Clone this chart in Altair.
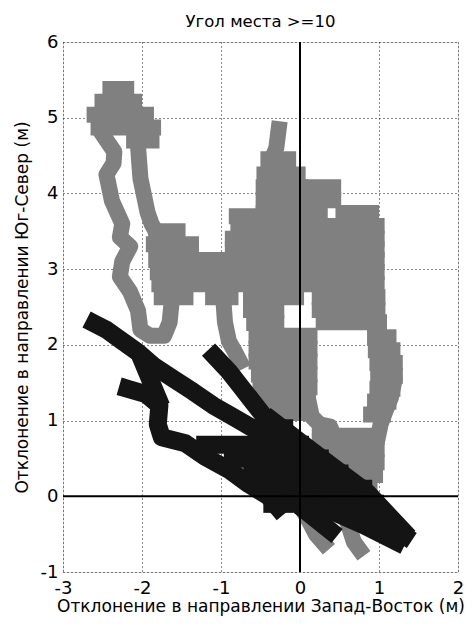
import altair as alt
import pandas as pd

TITLE = "Угол места >=10"
X_TITLE = "Отклонение в направлении Запад-Восток (м)"
Y_TITLE = "Отклонение в направлении Юг-Север (м)"
X_TICKS = [-3, -2, -1, 0, 1, 2]
Y_TICKS = [-1, 0, 1, 2, 3, 4, 5, 6]

# ---- gray trace: dense parts as horizontal runs (y, x from, x to) ----
g_row_y = [5.38, 5.21, 5.04, 4.87, 4.70,
           3.50, 3.33, 3.12, 2.96, 2.80, 2.63, 2.63, 2.63, 2.63,
           4.08, 3.91, 3.74, 3.74, 3.57, 3.40, 3.26, 2.46, 2.30,
           4.45, 4.25, 4.08, 3.91, 3.74, 3.70, 3.55, 3.40,
           2.46, 2.29, 2.12, 1.95, 1.78, 1.61, 1.44, 1.27, 1.10,
           2.10, 1.93, 1.76, 1.59, 1.42, 1.25, 1.08,
           0.80, 0.62, 0.45, 0.28, 0.11]
g_row_x0 = [-2.40, -2.50, -2.60, -2.55, -2.10,
            -1.82, -1.85, -1.82, -1.80, -1.78, -1.75, -1.10, -0.62, 0.25,
            0.05, 0.05, 0.05, 0.55, 0.05, 0.05, -0.85, 0.25, 0.30,
            -0.40, -0.45, -0.46, -0.46, -0.46, -0.80, -0.78, -0.85,
            -0.62, -0.58, -0.55, -0.55, -0.55, -0.52, -0.50, -0.45, -0.40,
            0.95, 0.96, 0.98, 0.99, 0.98, 0.95, 0.90,
            0.25, 0.30, 0.40, 0.55, 0.65]
g_row_x1 = [-2.20, -2.10, -1.95, -1.86, -1.88,
            -1.55, -1.38, 0.97, 0.97, 0.97, -1.45, -0.88, -0.05, 0.98,
            0.42, 0.42, 0.25, 0.90, 0.97, 0.97, 0.97, 0.98, 1.00,
            -0.15, -0.03, 0.00, 0.00, 0.00, -0.55, 0.00, 0.00,
            -0.30, -0.30, 0.12, 0.12, 0.12, 0.12, 0.12, 0.10, 0.05,
            1.12, 1.17, 1.20, 1.20, 1.17, 1.12, 1.05,
            0.95, 0.97, 0.97, 0.95, 0.88]

# ---- gray trace: strands ----
g_left_x = [-1.62, -1.65, -1.72, -1.90, -2.02, -2.05, -2.15, -2.28, -2.25, -2.15, -2.28, -2.25, -2.38, -2.45, -2.36, -2.35, -2.48]
g_left_y = [2.62, 2.30, 2.12, 2.12, 2.20, 2.45, 2.70, 2.90, 3.10, 3.30, 3.42, 3.60, 3.90, 4.25, 4.40, 4.55, 4.75]
g_rleg_x = [-2.05, -2.02, -1.97, -1.93, -1.88, -1.80]
g_rleg_y = [4.62, 4.20, 3.95, 3.75, 3.60, 3.45]
g_strip_x = [-0.97, -0.95, -0.90, -0.82, -0.76]
g_strip_y = [2.60, 2.30, 2.05, 1.90, 1.78]
g_spike_x = [-0.27, -0.30, -0.36]
g_spike_y = [4.85, 4.60, 4.45]
g_outer_x = [0.95, 1.08, 1.15, 1.20, 1.15, 1.08, 1.02, 0.98, 0.92, 0.86, 0.82]
g_outer_y = [2.25, 2.00, 1.80, 1.55, 1.30, 1.12, 0.95, 0.75, 0.50, 0.30, 0.10]
g_inner_x = [0.10, 0.15, 0.25, 0.38, 0.45, 0.50, 0.58, 0.68, 0.75]
g_inner_y = [1.30, 1.05, 0.95, 0.92, 0.75, 0.50, 0.30, 0.15, 0.00]
g_bot1_x = [-0.85, -0.70, -0.55, -0.45]
g_bot1_y = [0.45, 0.30, 0.15, 0.05]
g_bot2_x = [0.02, 0.10, 0.20, 0.30]
g_bot2_y = [-0.15, -0.30, -0.50, -0.62]
g_bot3_x = [0.55, 0.62, 0.68, 0.75]
g_bot3_y = [-0.20, -0.40, -0.60, -0.70]

# ---- black trace: dense core as horizontal runs ----
b_row_y = [0.90, 0.68, 0.50, 0.30, 0.10, -0.10, -0.10]
b_row_x0 = [-0.45, -1.20, -0.85, -0.60, -0.40, -0.35, 0.05]
b_row_x1 = [-0.20, 0.00, 0.25, 0.50, 0.80, -0.20, 0.95]

# ---- black trace: strands ----
b_top_x = [-2.60, -2.45, -2.25, -2.05, -1.85, -1.60, -1.35, -1.10, -0.85, -0.60, -0.35]
b_top_y = [2.28, 2.20, 2.05, 1.90, 1.72, 1.55, 1.38, 1.20, 1.05, 0.90, 0.72]
b_fork_x = [-2.00, -1.90, -1.80]
b_fork_y = [1.80, 1.55, 1.30]
b_hook_x = [-2.18, -1.95, -1.78, -1.80, -1.75, -1.45, -1.20, -0.90, -0.65, -0.40, -0.28]
b_hook_y = [1.42, 1.35, 1.20, 0.95, 0.78, 0.70, 0.52, 0.35, 0.16, 0.00, -0.15]
b_spike_x = [-1.08, -0.90, -0.75, -0.60, -0.45, -0.30]
b_spike_y = [1.85, 1.65, 1.45, 1.25, 1.05, 0.90]
b_m1_x = [-0.35, 0.00, 0.40, 0.85, 1.30]
b_m1_y = [1.00, 0.72, 0.40, 0.05, -0.45]
b_m2_x = [0.00, 0.50, 1.00, 1.32]
b_m2_y = [0.40, 0.05, -0.30, -0.52]
b_m3_x = [0.30, 0.80, 1.22]
b_m3_y = [-0.15, -0.38, -0.60]
b_under_x = [-0.10, 0.20, 0.38]
b_under_y = [-0.05, -0.30, -0.45]

GRAY = [("left", g_left_x, g_left_y), ("rleg", g_rleg_x, g_rleg_y), ("strip", g_strip_x, g_strip_y),
        ("spike", g_spike_x, g_spike_y), ("outer", g_outer_x, g_outer_y),
        ("inner", g_inner_x, g_inner_y),
        ("bot1", g_bot1_x, g_bot1_y), ("bot2", g_bot2_x, g_bot2_y), ("bot3", g_bot3_x, g_bot3_y)]
BLACK = [("top", b_top_x, b_top_y), ("fork", b_fork_x, b_fork_y), ("hook", b_hook_x, b_hook_y),
         ("spike", b_spike_x, b_spike_y), ("m1", b_m1_x, b_m1_y), ("m2", b_m2_x, b_m2_y),
         ("m3", b_m3_x, b_m3_y), ("under", b_under_x, b_under_y)]


def strands(parts):
    rows = []
    for name, xs, ys in parts:
        for i, (x, y) in enumerate(zip(xs, ys)):
            rows.append({"seg": name, "x": x, "y": y, "i": i})
    return pd.DataFrame(rows)


gray_lines = strands(GRAY)
black_lines = strands(BLACK)
gray_runs = pd.DataFrame({"y": g_row_y, "x": g_row_x0, "x2": g_row_x1})
black_runs = pd.DataFrame({"y": b_row_y, "x": b_row_x0, "x2": b_row_x1})

FONT = "DejaVu Sans"
GRAY_C = "#808080"
BLACK_C = "#141414"
xs = alt.Scale(domain=[-3, 2], nice=False, zero=False)
ys = alt.Scale(domain=[-1, 6], nice=False, zero=False)

common = dict(grid=True, gridDash=[1, 3], gridColor="#000000", gridOpacity=0.9, ticks=False,
              domain=False, labelExpr="'' + datum.value", labelFontSize=18, labelFont=FONT,
              labelColor="#000", titleFontSize=17, titleFont=FONT, titleFontWeight="normal",
              titleColor="#000", labelFlush=False)
x_axis = alt.Axis(values=X_TICKS, title=X_TITLE, labelPadding=7, titlePadding=1, **common)
y_axis = alt.Axis(values=Y_TICKS, title=Y_TITLE, labelPadding=5, titlePadding=9, **common)

gray_run_layer = alt.Chart(gray_runs).mark_rule(color=GRAY_C, strokeWidth=16, strokeCap="square").encode(
    x=alt.X("x:Q", scale=xs, axis=x_axis), x2="x2:Q",
    y=alt.Y("y:Q", scale=ys, axis=y_axis),
)
gray_line_layer = alt.Chart(gray_lines).mark_line(color=GRAY_C, strokeWidth=16, strokeJoin="round",
                                                  strokeCap="square").encode(
    x=alt.X("x:Q", scale=xs), y=alt.Y("y:Q", scale=ys), detail="seg:N", order="i:Q",
)
black_run_layer = alt.Chart(black_runs).mark_rule(color=BLACK_C, strokeWidth=18, strokeCap="square").encode(
    x=alt.X("x:Q", scale=xs), x2="x2:Q", y=alt.Y("y:Q", scale=ys),
)
black_line_layer = alt.Chart(black_lines).mark_line(color=BLACK_C, strokeWidth=18, strokeJoin="round",
                                                    strokeCap="square").encode(
    x=alt.X("x:Q", scale=xs), y=alt.Y("y:Q", scale=ys), detail="seg:N", order="i:Q",
)
vrule = alt.Chart(pd.DataFrame({"x": [0]})).mark_rule(color="#000", strokeWidth=2).encode(
    x=alt.X("x:Q", scale=xs))
hrule = alt.Chart(pd.DataFrame({"y": [0]})).mark_rule(color="#000", strokeWidth=2).encode(
    y=alt.Y("y:Q", scale=ys))

chart = alt.layer(gray_run_layer, gray_line_layer, black_run_layer, black_line_layer,
                  vrule, hrule).properties(
    width=395, height=530,
    title=alt.Title(TITLE, fontSize=16.5, fontWeight="normal", font=FONT, color="#000", offset=3),
    autosize=alt.AutoSizeParams(type="none"),
    padding={"left": 55, "top": 34, "right": 7, "bottom": 45},
).configure_view(stroke="#333333", strokeWidth=1.2).configure(background="white")

chart.save("out.html", embed_options={"renderer": "svg", "actions": False})
